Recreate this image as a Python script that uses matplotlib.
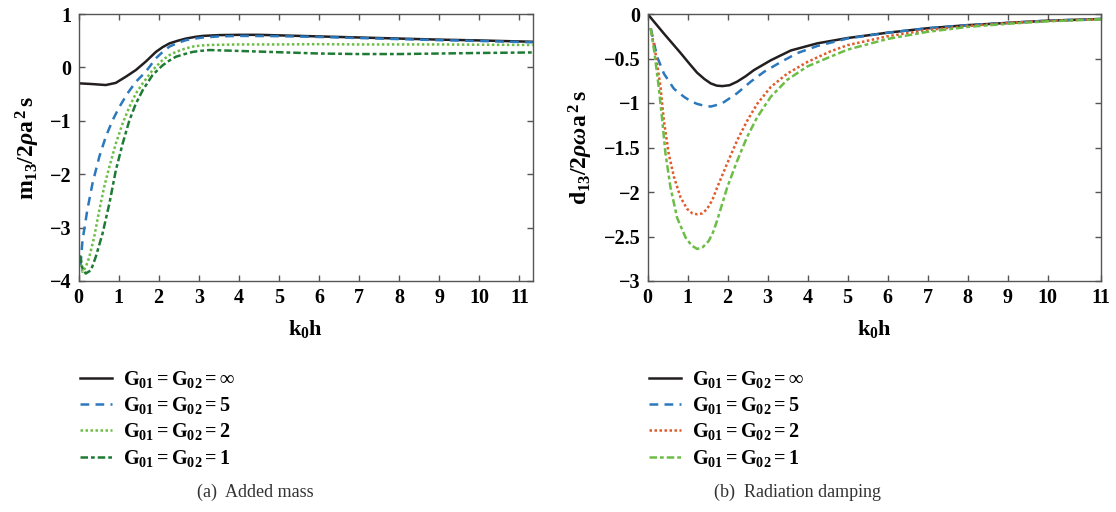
import matplotlib
matplotlib.use("Agg")
import matplotlib.pyplot as plt
from matplotlib.ticker import FuncFormatter

plt.rcParams['font.family'] = ['Liberation Serif', 'DejaVu Serif']
plt.rcParams['font.weight'] = 'bold'
plt.rcParams['mathtext.fontset'] = 'custom'
plt.rcParams['mathtext.rm'] = 'Liberation Serif:bold'
plt.rcParams['mathtext.bf'] = 'Liberation Serif:bold'
plt.rcParams['mathtext.it'] = 'Liberation Serif:bold:italic'
plt.rcParams['axes.unicode_minus'] = True

# ---------------- data: (a) added mass ----------------
m_inf_x = [0.05, 0.3, 0.68, 0.93, 1.18, 1.43, 1.68, 1.93, 2.1, 2.27, 2.48, 2.68, 2.9, 3.1, 3.52, 4.0, 4.5, 5, 6, 7, 8, 9, 10, 11.33]
m_inf_y = [-0.30, -0.31, -0.33, -0.29, -0.175, -0.05, 0.11, 0.29, 0.38, 0.45, 0.50, 0.54, 0.57, 0.59, 0.605, 0.61, 0.61, 0.60, 0.58, 0.56, 0.54, 0.52, 0.505, 0.48]

m_5_x = [0.05, 0.1, 0.22, 0.35, 0.52, 0.68, 0.85, 1.02, 1.22, 1.43, 1.68, 1.93, 2.1, 2.27, 2.48, 2.68, 2.9, 3.1, 3.5, 4, 5, 6, 7, 8, 9, 10, 11.33]
m_5_y = [-3.7, -3.24, -2.67, -2.17, -1.67, -1.3, -0.99, -0.74, -0.49, -0.27, -0.08, 0.17, 0.29, 0.39, 0.46, 0.51, 0.54, 0.56, 0.58, 0.59, 0.585, 0.57, 0.55, 0.53, 0.51, 0.495, 0.47]

m_2_x = [0.05, 0.1, 0.18, 0.27, 0.39, 0.52, 0.64, 0.77, 0.93, 1.1, 1.27, 1.43, 1.6, 1.85, 2.1, 2.27, 2.43, 2.65, 2.85, 3.05, 3.27, 4, 5, 6, 7, 8, 9, 10, 11.33]
m_2_y = [-3.6, -3.83, -3.74, -3.55, -3.18, -2.67, -2.24, -1.86, -1.43, -1.05, -0.74, -0.49, -0.3, -0.05, 0.14, 0.23, 0.29, 0.35, 0.39, 0.41, 0.42, 0.43, 0.43, 0.435, 0.43, 0.43, 0.43, 0.425, 0.42]

m_1_x = [0.04, 0.1, 0.18, 0.31, 0.43, 0.6, 0.77, 0.93, 1.1, 1.27, 1.43, 1.6, 1.85, 2.1, 2.27, 2.43, 2.65, 2.85, 3.05, 3.27, 3.93, 4.77, 6, 7, 8, 9, 10, 11.33]
m_1_y = [-3.52, -3.77, -3.86, -3.8, -3.55, -3.11, -2.55, -1.93, -1.43, -0.99, -0.68, -0.43, -0.14, 0.04, 0.13, 0.2, 0.25, 0.29, 0.31, 0.325, 0.31, 0.29, 0.26, 0.25, 0.25, 0.26, 0.27, 0.28]

# ---------------- data: (b) radiation damping ----------------
d_inf_x = [0.04, 0.41, 0.83, 1.05, 1.24, 1.42, 1.58, 1.73, 1.87, 2.05, 2.24, 2.45, 2.66, 3.08, 3.58, 4.24, 5, 6, 7, 8, 9, 10, 11.33]
d_inf_y = [-0.02, -0.22, -0.44, -0.56, -0.66, -0.73, -0.78, -0.805, -0.81, -0.80, -0.76, -0.70, -0.63, -0.52, -0.41, -0.33, -0.27, -0.21, -0.16, -0.125, -0.1, -0.075, -0.056]

d_5_x = [0.08, 0.24, 0.41, 0.66, 0.91, 1.08, 1.24, 1.41, 1.58, 1.75, 1.91, 2.24, 2.58, 2.91, 3.33, 3.74, 4.24, 5, 6, 7, 8, 9, 10, 11.33]
d_5_y = [-0.16, -0.48, -0.67, -0.84, -0.93, -0.98, -1.01, -1.03, -1.04, -1.02, -0.99, -0.89, -0.76, -0.65, -0.54, -0.44, -0.36, -0.275, -0.21, -0.16, -0.125, -0.1, -0.075, -0.056]

d_2_x = [0.08, 0.2, 0.325, 0.41, 0.53, 0.66, 0.825, 0.99, 1.12, 1.24, 1.37, 1.49, 1.62, 1.74, 1.99, 2.24, 2.49, 2.74, 3.08, 3.49, 3.99, 4.57, 5, 6, 7, 8, 9, 10, 11.33]
d_2_y = [-0.16, -0.44, -0.82, -1.2, -1.57, -1.83, -2.06, -2.19, -2.24, -2.25, -2.24, -2.19, -2.09, -1.95, -1.68, -1.42, -1.2, -1.01, -0.82, -0.67, -0.54, -0.42, -0.35, -0.25, -0.18, -0.135, -0.1, -0.078, -0.058]

d_1_x = [0.08, 0.175, 0.28, 0.37, 0.45, 0.575, 0.74, 0.95, 1.1, 1.24, 1.38, 1.53, 1.64, 1.74, 1.99, 2.24, 2.49, 2.74, 3.08, 3.49, 3.99, 4.57, 5, 6, 7, 8, 9, 10, 11.33]
d_1_y = [-0.16, -0.44, -0.82, -1.2, -1.57, -1.95, -2.29, -2.51, -2.6, -2.64, -2.62, -2.55, -2.45, -2.32, -1.95, -1.65, -1.38, -1.16, -0.93, -0.74, -0.59, -0.48, -0.4, -0.28, -0.2, -0.145, -0.11, -0.082, -0.06]

labels = [r"$\mathrm{G_{01}=G_{02}=}\infty$",
          r"$\mathrm{G_{01}=G_{02}=5}$",
          r"$\mathrm{G_{01}=G_{02}=2}$",
          r"$\mathrm{G_{01}=G_{02}=1}$"]

a_yticks = [1, 0, -1, -2, -3, -4]
b_yticks = [0, -0.5, -1, -1.5, -2, -2.5, -3]
a_xticks = list(range(0, 12))
b_xticks = list(range(0, 11)) + [11.33]
b_xticklabels = [str(i) for i in range(0, 12)]

# ---------------- figure ----------------
fig = plt.figure(figsize=(11.16, 5.12), dpi=100)
W, H = 1116, 512
ax1 = fig.add_axes([78.5 / W, 1 - 281 / H, (532.7 - 78.5) / W, 267 / H])
ax2 = fig.add_axes([647.5 / W, 1 - 281 / H, (1101 - 647.5) / W, 267 / H])

BLACK = '#231f20'
BLUE = '#2b78bd'
LGREEN = '#6cbd45'
DGREEN = '#1e7b34'
RED = '#e05a2b'

lw = 1.8
ax1.plot(m_inf_x, m_inf_y, color=BLACK, lw=lw, label=labels[0])
ax1.plot(m_5_x, m_5_y, color=BLUE, lw=lw, ls=(0, (3.5, 2.5)), label=labels[1])
ax1.plot(m_2_x, m_2_y, color=LGREEN, lw=lw, ls=(0, (1, 1)), label=labels[2])
ax1.plot(m_1_x, m_1_y, color=DGREEN, lw=lw, ls=(0, (3, 1.2, 1.5, 1.2)), label=labels[3])

ax2.plot(d_inf_x, d_inf_y, color=BLACK, lw=lw, label=labels[0])
ax2.plot(d_5_x, d_5_y, color=BLUE, lw=lw, ls=(0, (3.5, 2.5)), label=labels[1])
ax2.plot(d_2_x, d_2_y, color=RED, lw=lw, ls=(0, (1, 1)), label=labels[2])
ax2.plot(d_1_x, d_1_y, color=LGREEN, lw=lw, ls=(0, (3, 1.2, 1.5, 1.2)), label=labels[3])

fmt = FuncFormatter(lambda v, p: ('%g' % v).replace('-', '\u2212'))

for ax in (ax1, ax2):
    ax.set_xlim(0, 11.33)
    for s in ax.spines.values():
        s.set_color('#555555')
        s.set_linewidth(1.0)
    ax.tick_params(direction='in', top=True, right=True, length=4, width=1,
                   color='#555555', labelsize=14.5, pad=5)
    for t in ax.get_xticklabels() + ax.get_yticklabels():
        t.set_fontweight('bold')
    ax.yaxis.set_major_formatter(fmt)
    ax.set_xlabel(r"$\mathrm{k_0h}$", fontsize=16, labelpad=7)

ax1.set_ylim(-4, 1)
ax1.set_yticks(a_yticks)
ax1.set_xticks(a_xticks)
ax1.set_xticklabels([str(t) for t in a_xticks])

ax2.set_ylim(-3, 0)
ax2.set_yticks(b_yticks)
ax2.set_xticks(b_xticks)
ax2.set_xticklabels(b_xticklabels)

ax1.set_ylabel(r"$\mathrm{m_{13}/2}\rho\mathrm{a^{\,2}\,s}$", fontsize=17, labelpad=6)
ax2.set_ylabel(r"$\mathrm{d_{13}/2}\rho\omega\mathrm{a^{\,2}\,s}$", fontsize=17, labelpad=6)

for ax, x0 in ((ax1, 80 / W), (ax2, 649 / W)):
    ax.legend(loc='upper left', bbox_to_anchor=(x0, 1 - 369 / H), bbox_transform=fig.transFigure,
              frameon=False, fontsize=14.5, handlelength=1.6, handletextpad=0.55,
              labelspacing=0.26, borderaxespad=0, borderpad=0)

fig.text(255 / W, 1 - 492 / H, "(a)  Added mass", ha='center', va='center',
         fontsize=13, fontweight='normal', color='#333333')
fig.text(798 / W, 1 - 492 / H, "(b)  Radiation damping", ha='center', va='center',
         fontsize=13, fontweight='normal', color='#333333')

fig.savefig("out.png", dpi=100)
